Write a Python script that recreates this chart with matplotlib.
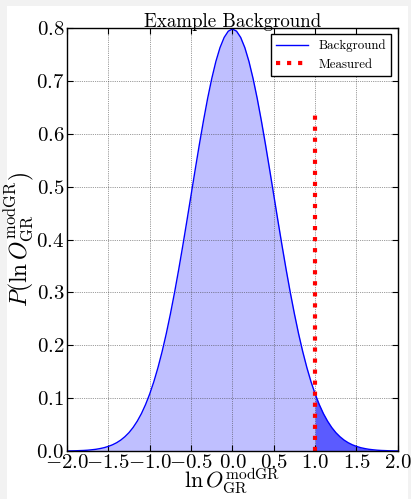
import matplotlib
matplotlib.use("Agg")
import matplotlib.pyplot as plt
from matplotlib.patches import Rectangle
from matplotlib.ticker import MultipleLocator, FormatStrFormatter

plt.rcParams['font.family'] = 'serif'
plt.rcParams['font.serif'] = ['cmr10', 'DejaVu Serif']
plt.rcParams['mathtext.fontset'] = 'cm'
plt.rcParams['axes.formatter.use_mathtext'] = True
plt.rcParams['axes.unicode_minus'] = True

# values (0.05 steps)
x_vals = [-2.0, -1.95, -1.9, -1.85, -1.8, -1.75, -1.7, -1.65, -1.6, -1.55,
          -1.5, -1.45, -1.4, -1.35, -1.3, -1.25, -1.2, -1.15, -1.1, -1.05,
          -1.0, -0.95, -0.9, -0.85, -0.8, -0.75, -0.7, -0.65, -0.6, -0.55,
          -0.5, -0.45, -0.4, -0.35, -0.3, -0.25, -0.2, -0.15, -0.1, -0.05,
          0.0, 0.05, 0.1, 0.15, 0.2, 0.25, 0.3, 0.35, 0.4, 0.45,
          0.5, 0.55, 0.6, 0.65, 0.7, 0.75, 0.8, 0.85, 0.9, 0.95,
          1.0, 1.05, 1.1, 1.15, 1.2, 1.25, 1.3, 1.35, 1.4, 1.45,
          1.5, 1.55, 1.6, 1.65, 1.7, 1.75, 1.8, 1.85, 1.9, 1.95, 2.0]
p_vals = [0.0003, 0.0004, 0.0006, 0.0009, 0.0012, 0.0017, 0.0025, 0.0034, 0.0048, 0.0065,
          0.0089, 0.0119, 0.0158, 0.0208, 0.0272, 0.0350, 0.0448, 0.0567, 0.0709, 0.0880,
          0.1080, 0.1312, 0.1579, 0.1881, 0.2218, 0.2591, 0.2995, 0.3428, 0.3884, 0.4357,
          0.4839, 0.5322, 0.5794, 0.6245, 0.6665, 0.7041, 0.7366, 0.7628, 0.7820, 0.7939,
          0.7979, 0.7939, 0.7820, 0.7628, 0.7366, 0.7041, 0.6665, 0.6245, 0.5794, 0.5322,
          0.4839, 0.4357, 0.3884, 0.3428, 0.2995, 0.2591, 0.2218, 0.1881, 0.1579, 0.1312,
          0.1080, 0.0880, 0.0709, 0.0567, 0.0448, 0.0350, 0.0272, 0.0208, 0.0158, 0.0119,
          0.0089, 0.0065, 0.0048, 0.0034, 0.0025, 0.0017, 0.0012, 0.0009, 0.0006, 0.0004, 0.0003]
measured = 1.0
measured_height = 0.64

fig = plt.figure(figsize=(4.11, 4.99), dpi=100)
fig.patch.set_facecolor('#f2f2f2')
fig.patches.append(Rectangle((7 / 411, 0), 401 / 411, 493 / 499, transform=fig.transFigure,
                             facecolor='white', edgecolor='none', zorder=-10))
ax = fig.add_axes([0.163, 0.096, 0.805, 0.848])

ax.plot(x_vals, p_vals, color='blue', lw=1, label='Background')
ax.fill_between(x_vals, 0, p_vals, color='#bfbfff', lw=0)
x_tail = [x for x in x_vals if x >= measured]
p_tail = [p for x, p in zip(x_vals, p_vals) if x >= measured]
ax.fill_between(x_tail, 0, p_tail, color='#5b5bff', lw=0)
ax.plot([measured, measured], [0, measured_height], color='red', ls=':', lw=3, label='Measured')

ax.set_xlim(-2, 2)
ax.set_ylim(0, 0.8)
ax.xaxis.set_major_locator(MultipleLocator(0.5))
ax.xaxis.set_major_formatter(FormatStrFormatter('$%.1f$'))
ax.yaxis.set_major_formatter(FormatStrFormatter('$%.1f$'))
ax.grid(True, color='0.25', ls=':', lw=0.5)
ax.tick_params(direction='in', top=True, right=True, labelsize=15, pad=2, length=4)
for s in ax.spines.values():
    s.set_linewidth(1)

ax.set_title('Example Background', fontsize=13.6, pad=1)
ax.set_xlabel(r'$\ln O_{\rm GR}^{\rm modGR}$', fontsize=16, labelpad=-4)
ax.set_ylabel(r'$P(\ln O_{\rm GR}^{\rm modGR})$', fontsize=17, labelpad=0)

leg = ax.legend(loc='upper right', fontsize=9.3, fancybox=False, framealpha=1,
                edgecolor='black', handlelength=2.5)
leg.get_frame().set_linewidth(1)

fig.savefig('out.png', dpi=100, facecolor=fig.get_facecolor())
